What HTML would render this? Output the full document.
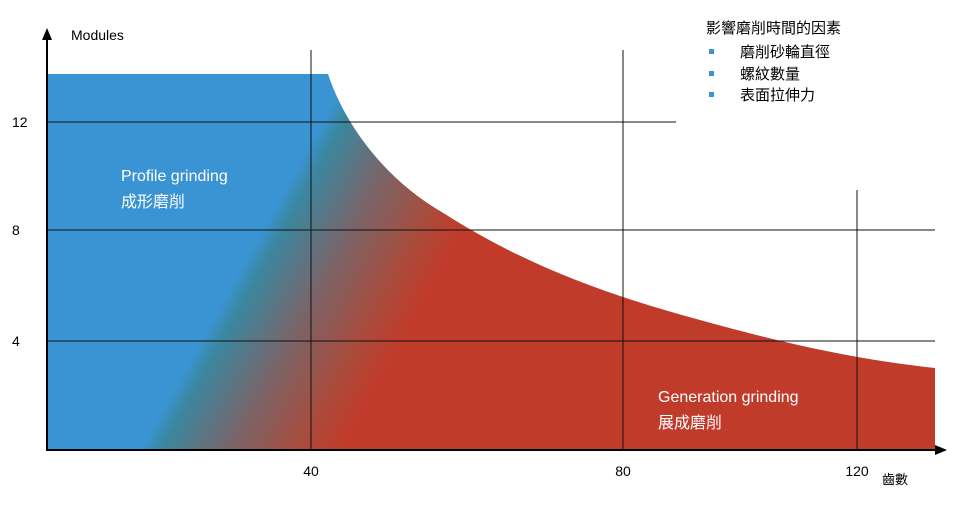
<!DOCTYPE html>
<html><head><meta charset="utf-8"><style>
html,body{margin:0;padding:0;background:#fff;}
svg{display:block;font-family:"Liberation Sans","Noto Sans CJK TC",sans-serif;}
</style></head><body>
<svg width="960" height="514" viewBox="0 0 960 514" xmlns="http://www.w3.org/2000/svg">
<defs>
<linearGradient id="g" gradientUnits="userSpaceOnUse" x1="140" y1="450" x2="293" y2="535">
<stop offset="0" stop-color="#3a94d3"/>
<stop offset="0.1" stop-color="#3a879f"/>
<stop offset="0.45" stop-color="#7a6468"/>
<stop offset="0.78" stop-color="#a84c3d"/>
<stop offset="1" stop-color="#c13b2b"/>
</linearGradient>
</defs>
<path d="M47,74 L328,74 C345,125 385,180 445,214 C520,262 600,293 700,320 C790,345 860,360 935,368 L935,450 L47,450 Z" fill="url(#g)"/>
<g stroke="#111" stroke-width="1" fill="none">
<line x1="47" y1="122" x2="676" y2="122"/>
<line x1="47" y1="230" x2="935" y2="230"/>
<line x1="47" y1="341" x2="935" y2="341"/>
<line x1="311" y1="50" x2="311" y2="450"/>
<line x1="623" y1="50" x2="623" y2="450"/>
<line x1="857" y1="190" x2="857" y2="450"/>
</g>
<g stroke="#000" stroke-width="2">
<line x1="47" y1="38" x2="47" y2="451"/>
<line x1="46" y1="450" x2="938" y2="450"/>
</g>
<polygon points="47,28 42,40 52,40" fill="#000"/>
<polygon points="947,450 935,445 935,455" fill="#000"/>
<g font-size="14" fill="#000">
<text x="71" y="40">Modules</text>
<text x="12" y="127">12</text>
<text x="12" y="235">8</text>
<text x="12" y="346">4</text>
<text x="311" y="476" text-anchor="middle">40</text>
<text x="623" y="476" text-anchor="middle">80</text>
<text x="857" y="476" text-anchor="middle">120</text>
<text x="882" y="484" font-size="13">齒數</text>
<text x="706" y="33" font-size="15">影響磨削時間的因素</text>
<text x="740" y="57" font-size="15">磨削砂輪直徑</text>
<text x="740" y="79" font-size="15">螺紋數量</text>
<text x="740" y="100" font-size="15">表面拉伸力</text>
</g>
<g fill="#3a94d3">
<rect x="709" y="49" width="5" height="5"/>
<rect x="709" y="71" width="5" height="5"/>
<rect x="709" y="92" width="5" height="5"/>
</g>
<g fill="#fff" font-size="16">
<text x="121" y="181">Profile grinding</text>
<text x="121" y="207">成形磨削</text>
<text x="658" y="402">Generation grinding</text>
<text x="658" y="428">展成磨削</text>
</g>
</svg>
</body></html>
